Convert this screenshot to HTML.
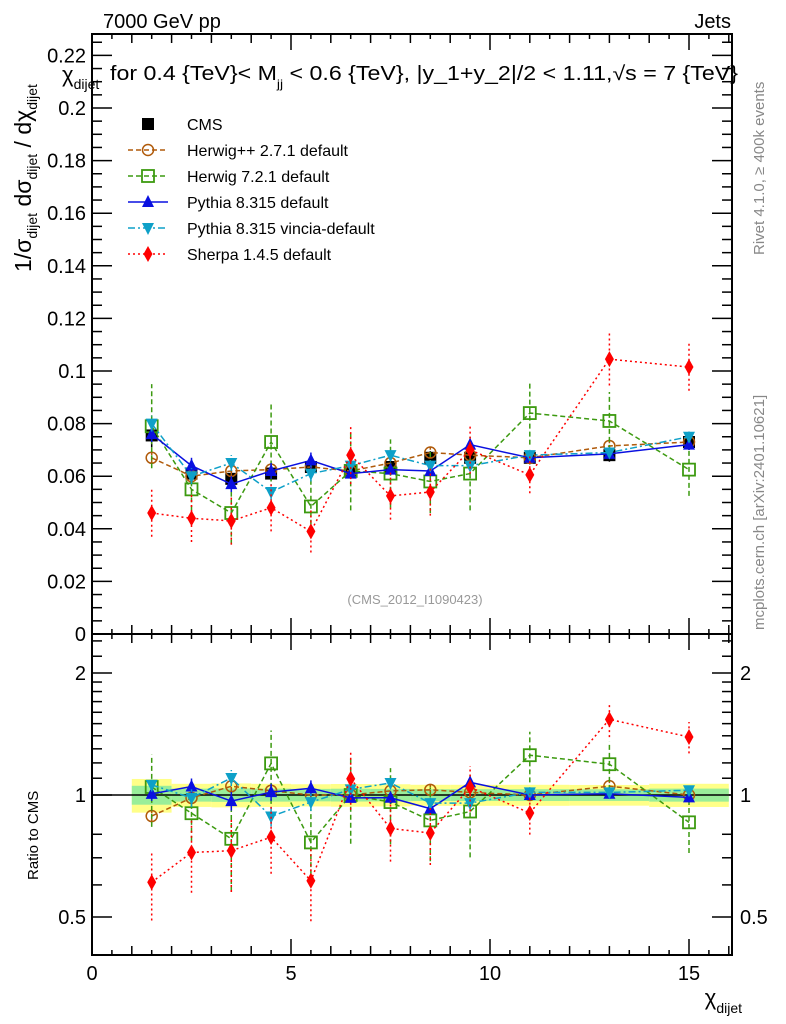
<!DOCTYPE html>
<html><head><meta charset="utf-8">
<style>
html,body{margin:0;padding:0;background:#fff;}
svg{display:block;font-family:"Liberation Sans",sans-serif;}
</style></head>
<body>
<svg id="chart" width="786" height="1024" viewBox="0 0 786 1024" xmlns="http://www.w3.org/2000/svg">
<text x="103" y="28" font-size="20">7000 GeV pp</text>
<text x="731" y="28" font-size="20" text-anchor="end">Jets</text>
<text x="110" y="80" font-size="20" textLength="628" lengthAdjust="spacingAndGlyphs">for 0.4 {TeV}&lt; M<tspan font-size="12" dy="8">jj</tspan><tspan dy="-8"> &lt; 0.6 {TeV}, |y_1+y_2|/2 &lt; 1.11,√s = 7 {TeV}</tspan></text>
<text transform="translate(764,255) rotate(-90)" font-size="15" fill="#888">Rivet 4.1.0, ≥ 400k events</text>
<text transform="translate(764,630) rotate(-90)" font-size="15" fill="#888">mcplots.cern.ch [arXiv:2401.10621]</text>
<text x="415" y="604" font-size="13" fill="#999" text-anchor="middle">(CMS_2012_I1090423)</text>
<g font-size="23">
<text transform="translate(31,272) rotate(-90)">1/σ<tspan font-size="14" dy="6">dijet</tspan><tspan dy="-6"> dσ</tspan><tspan font-size="14" dy="6">dijet</tspan><tspan dy="-6"> / dχ</tspan><tspan font-size="14" dy="6">dijet</tspan></text>
</g>
<text x="62" y="82" font-size="22">χ<tspan font-size="14" dy="7">dijet</tspan></text>
<text transform="translate(38,880) rotate(-90)" font-size="15">Ratio to CMS</text>
<text x="742" y="1005" font-size="22" text-anchor="end">χ<tspan font-size="14" dy="8">dijet</tspan></text>
<g id="main"></g>
<g id="ratio"></g>
<g id="legend"></g>
</svg>
<script>
const xs=[1.5,2.5,3.5,4.5,5.5,6.5,7.5,8.5,9.5,11,13,15];
const edges=[1,2,3,4,5,6,7,8,9,10,12,14,16];
const cms=[0.0755,0.061,0.059,0.061,0.0635,0.062,0.0635,0.067,0.067,0.067,0.068,0.073];
const cmsErr=[0.0045,0.0025,0.0025,0.0025,0.0025,0.0025,0.0025,0.0025,0.0025,0.0025,0.0025,0.003];
const herwigpp=[0.067,0.060,0.062,0.0625,0.0635,0.062,0.065,0.069,0.068,0.067,0.0715,0.073];
const herwigppErr=[0.002,0.002,0.002,0.002,0.002,0.002,0.002,0.002,0.002,0.002,0.002,0.002];
const herwig7=[0.079,0.055,0.046,0.073,0.0485,0.062,0.061,0.058,0.061,0.084,0.081,0.0625];
const herwig7Err=[0.016,0.008,0.012,0.015,0.010,0.015,0.013,0.012,0.014,0.012,0.011,0.010];
const pythia=[0.076,0.064,0.057,0.062,0.066,0.061,0.0625,0.062,0.072,0.067,0.0685,0.072];
const pythiaErr=[0.003,0.003,0.003,0.003,0.003,0.002,0.002,0.002,0.002,0.002,0.002,0.002];
const vincia=[0.080,0.060,0.065,0.054,0.061,0.064,0.068,0.064,0.064,0.068,0.069,0.075];
const vinciaErr=[0.003,0.003,0.003,0.003,0.003,0.002,0.002,0.002,0.002,0.002,0.002,0.002];
const sherpa=[0.046,0.044,0.043,0.048,0.039,0.068,0.0525,0.054,0.070,0.0605,0.1045,0.1015];
const sherpaErr=[0.009,0.009,0.009,0.009,0.008,0.011,0.009,0.009,0.009,0.007,0.010,0.009];
const yTicks=[0,0.02,0.04,0.06,0.08,0.1,0.12,0.14,0.16,0.18,0.2,0.22];
const yTickLabels=["0","0.02","0.04","0.06","0.08","0.1","0.12","0.14","0.16","0.18","0.2","0.22"];
const xTicks=[0,5,10,15];
const rTicks=[0.5,1,2];
const rTickLabels=["0.5","1","2"];

const NS="http://www.w3.org/2000/svg";
const L=92,R=732,MT=34,MB=634,RT=634,RB=955;
const X0=0,X1=(R-L)/39.8;
const YMAX=(MB-MT)/2630;
function sx(v){return L+(v-X0)/(X1-X0)*(R-L);}
function sy(v){return MB-v/YMAX*(MB-MT);}
function ry(v){return 795-122*Math.log2(v);}
function mk(tag,attrs,parent){const e=document.createElementNS(NS,tag);for(const k in attrs)e.setAttribute(k,attrs[k]);parent.appendChild(e);return e;}
const main=document.getElementById('main'),ratio=document.getElementById('ratio'),leg=document.getElementById('legend');

let f=mk('rect',{x:L,y:MT,width:R-L,height:MB-MT,fill:'none',stroke:'#000','stroke-width':2},main);


f=mk('rect',{x:L,y:RT,width:R-L,height:RB-RT,fill:'none',stroke:'#000','stroke-width':2},ratio);



for(let v=0;v<=16;v+=0.5){
  const major=v%5===0,len=major?16:(v%1===0?9:5);
  for(const [top,bot] of [[MT,MB],[RT,RB]]){
    mk('line',{x1:sx(v),x2:sx(v),y1:bot,y2:bot-len,stroke:'#000','stroke-width':1.5},main);
    mk('line',{x1:sx(v),x2:sx(v),y1:top,y2:top+len,stroke:'#000','stroke-width':1.5},main);
  }
}
xTicks.forEach(v=>{const t=mk('text',{x:sx(v),y:RB+25,'font-size':20,'text-anchor':'middle'},ratio);t.textContent=String(v);

});
for(let i=0;i<=45;i++){const v=i*0.005;if(v>YMAX)break;const major=i%4===0,len=major?20:10;const y=sy(v);
  mk('line',{x1:L,x2:L+len,y1:y,y2:y,stroke:'#000','stroke-width':1.5},main);
  mk('line',{x1:R,x2:R-len,y1:y,y2:y,stroke:'#000','stroke-width':1.5},main);}
yTicks.forEach((v,i)=>{const t=mk('text',{x:L-6,y:sy(v)+7,'font-size':20,'text-anchor':'end'},main);t.textContent=yTickLabels[i];

});
const rMinor=[0.5,0.6,0.7,0.8,1,1.1,1.2,1.3,1.4,1.5,1.6,1.7,1.8,1.9,2,2.2,2.4];
rMinor.forEach(v=>{const y=ry(v);if(y<RT+2||y>RB)return;const len=rTicks.includes(v)?20:10;
  mk('line',{x1:L,x2:L+len,y1:y,y2:y,stroke:'#000','stroke-width':1.5},ratio);
  mk('line',{x1:R,x2:R-len,y1:y,y2:y,stroke:'#000','stroke-width':1.5},ratio);});
rTicks.forEach((v,i)=>{for(const [x,a] of [[L-6,'end'],[R+8,'start']]){const t=mk('text',{x:x,y:ry(v)+7,'font-size':20,'text-anchor':a},ratio);t.textContent=rTickLabels[i];

}});

edges.slice(0,-1).forEach((e,i)=>{const rel=cmsErr[i]/cms[i];
  const b=mk('rect',{x:sx(e),width:sx(edges[i+1])-sx(e),y:ry(1+rel*1.6),height:ry(1-rel*1.6)-ry(1+rel*1.6),fill:'#ffff88'},ratio);
  
  
  const g=mk('rect',{x:sx(e),width:sx(edges[i+1])-sx(e),y:ry(1+rel*0.9),height:ry(1-rel*0.9)-ry(1+rel*0.9),fill:'#99ee99'},ratio);
  
  });
mk('line',{x1:L,x2:R,y1:ry(1),y2:ry(1),stroke:'#000','stroke-width':1.5},ratio);

function marker(p,shape,x,y,c){
  let e;
  if(shape==='sq')e=mk('rect',{x:x-6,y:y-6,width:12,height:12,fill:'#000'},p);
  else if(shape==='circ')e=mk('circle',{cx:x,cy:y,r:5.5,fill:'none',stroke:c,'stroke-width':1.5},p);
  else if(shape==='osq')e=mk('rect',{x:x-6,y:y-6,width:12,height:12,fill:'none',stroke:c,'stroke-width':1.8},p);
  else if(shape==='tri')e=mk('polygon',{points:`${x},${y-7} ${x-6},${y+5} ${x+6},${y+5}`,fill:c},p);
  else if(shape==='itri')e=mk('polygon',{points:`${x},${y+7} ${x-6},${y-5} ${x+6},${y-5}`,fill:c},p);
  else e=mk('polygon',{points:`${x},${y-8} ${x-4.5},${y} ${x},${y+8} ${x+4.5},${y}`,fill:c},p);
  return e;
}
const series=[
 {name:'Herwig++ 2.7.1 default',v:herwigpp,e:herwigppErr,c:'#b05a0a',dash:'5,3',shape:'circ',key:'herwigpp'},
 {name:'Herwig 7.2.1 default',v:herwig7,e:herwig7Err,c:'#3c9a10',dash:'5,3',shape:'osq',key:'herwig7'},
 {name:'Pythia 8.315 default',v:pythia,e:pythiaErr,c:'#0a10e0',dash:'',shape:'tri',key:'pythia'},
 {name:'Pythia 8.315 vincia-default',v:vincia,e:vinciaErr,c:'#0ea0c8',dash:'7,3,2,3',shape:'itri',key:'vincia'},
 {name:'Sherpa 1.4.5 default',v:sherpa,e:sherpaErr,c:'#ff0000',dash:'2,3',shape:'dia',key:'sherpa'}
];
function drawSeries(p,s,vals,errs,yf){
  const pts=xs.map((x,i)=>sx(x)+','+yf(vals[i])).join(' ');
  const l=mk('polyline',{points:pts,fill:'none',stroke:s.c,'stroke-width':1.5,'stroke-dasharray':s.dash},p);
  
  
  xs.forEach((x,i)=>{
    mk('line',{x1:sx(x),x2:sx(x),y1:yf(vals[i]-errs[i]),y2:yf(vals[i]+errs[i]),stroke:s.c,'stroke-width':1.5,'stroke-dasharray':s.dash},p);
    const m=marker(p,s.shape,sx(x),yf(vals[i]),s.c);
    
    
  });
}
xs.forEach((x,i)=>{mk('line',{x1:sx(x),x2:sx(x),y1:sy(cms[i]-cmsErr[i]),y2:sy(cms[i]+cmsErr[i]),stroke:'#000','stroke-width':1.5},main);
  const m=marker(main,'sq',sx(x),sy(cms[i]),'#000');
  
  });
series.forEach(s=>{
  drawSeries(main,s,s.v,s.e,sy);
  const rv=s.v.map((v,i)=>v/cms[i]),re=s.e.map((e,i)=>e/cms[i]);
  drawSeries(ratio,s,rv,re,ry);
});
const items=[{name:'CMS',shape:'sq',c:'#000',dash:null}].concat(series);
items.forEach((s,i)=>{const y=124+i*26;
  if(s.dash!==null){mk('line',{x1:128,x2:168,y1:y,y2:y,stroke:s.c,'stroke-width':1.5,'stroke-dasharray':s.dash},leg);}
  const m=marker(leg,s.shape,148,y,s.c);
  
  
  const t=mk('text',{x:187,y:y+6,'font-size':16},leg);t.textContent=s.name;
  
  });
</script>
</body></html>
